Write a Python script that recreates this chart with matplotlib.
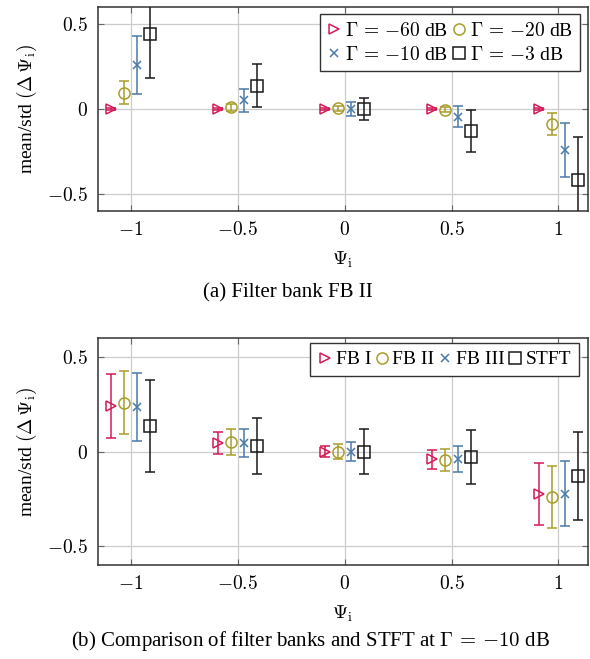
import matplotlib
matplotlib.use("Agg")
import matplotlib.pyplot as plt
from matplotlib.lines import Line2D
import numpy as np

plt.rcParams['font.family'] = ['Liberation Serif', 'DejaVu Serif']
plt.rcParams['mathtext.fontset'] = 'cm'

# data
psi = [-1, -0.5, 0, 0.5, 1]
offsets = [-0.09, -0.03, 0.03, 0.09]

top_labels = [r'$\Gamma\,=\,{-}60$ dB', r'$\Gamma\,=\,{-}20$ dB',
              r'$\Gamma\,=\,{-}10$ dB', r'$\Gamma\,=\,{-}3$ dB']
top_mean = [
    [0.0, 0.0, 0.0, 0.0, 0.0],
    [0.095, 0.01, 0.005, -0.005, -0.09],
    [0.257, 0.05, 0.0, -0.045, -0.24],
    [0.443, 0.138, 0.0, -0.13, -0.418],
]
top_std = [
    [0.005, 0.005, 0.005, 0.005, 0.005],
    [0.067, 0.02, 0.015, 0.015, 0.065],
    [0.17, 0.07, 0.04, 0.06, 0.16],
    [0.26, 0.128, 0.066, 0.123, 0.255],
]

bot_labels = ['FB I', 'FB II', 'FB III', 'STFT']
bot_mean = [
    [0.24, 0.045, 0.0, -0.042, -0.226],
    [0.257, 0.05, 0.0, -0.045, -0.24],
    [0.235, 0.045, 0.0, -0.04, -0.222],
    [0.135, 0.03, 0.0, -0.03, -0.13],
]
bot_std = [
    [0.17, 0.06, 0.03, 0.05, 0.163],
    [0.167, 0.068, 0.04, 0.06, 0.163],
    [0.18, 0.075, 0.048, 0.07, 0.174],
    [0.243, 0.149, 0.12, 0.143, 0.232],
]

colors = ['#d41a57', '#a89d2a', '#4a7aa8', '#1a1a1a']
markers = ['>', 'o', 'x', 's']
msizes = [7, 8, 6, 8]

xticks = [-1, -0.5, 0, 0.5, 1]
yticks = [-0.5, 0, 0.5]


def panel(ax, means, stds, labels, ncol, anchor, order):
    for k in range(4):
        x = np.array(psi) + offsets[k]
        ax.errorbar(x, means[k], yerr=stds[k], fmt=markers[k], color=colors[k],
                    ms=msizes[k], mfc='none', mec=colors[k], mew=1.1,
                    elinewidth=1.1, capsize=3.6, capthick=1.1, zorder=3)
    ax.set_xlim(-1.153, 1.139)
    ax.set_ylim(-0.6, 0.6)
    ax.set_xticks(xticks)
    ax.set_xticklabels(['$%g$' % t for t in xticks])
    ax.set_yticks(yticks)
    ax.set_yticklabels(['$%g$' % t for t in yticks])
    ax.tick_params(direction='in', top=True, right=True, length=4,
                   color='#666666', labelsize=14, pad=7)
    ax.grid(True, color='#cccccc', lw=0.9)
    ax.set_axisbelow(True)
    for s in ax.spines.values():
        s.set_color('#333333')
        s.set_linewidth(1.1)
    ax.set_xlabel(r'$\Psi_\mathrm{i}$', fontsize=14, labelpad=8)
    ax.set_ylabel(r'mean/std $(\Delta\,\Psi_\mathrm{i})$', fontsize=14, labelpad=6)

    handles = [Line2D([], [], ls='none', marker=markers[k], color=colors[k],
                      mfc='none', mec=colors[k], ms=msizes[k], mew=1.1)
               for k in order]
    leg = ax.legend(handles, [labels[k] for k in order], loc='upper right',
                    bbox_to_anchor=anchor, ncol=ncol, fontsize=14, frameon=True,
                    fancybox=False, framealpha=1, edgecolor='#333333',
                    handlelength=0.7, handletextpad=0.2, columnspacing=0.2,
                    borderpad=0.4, labelspacing=0.3, borderaxespad=0)
    leg.get_frame().set_linewidth(1.0)


fig = plt.figure(figsize=(5.9, 6.59), dpi=100)
ax1 = fig.add_axes([0.166, 0.6798, 0.831, 0.3096])
ax2 = fig.add_axes([0.166, 0.1426, 0.831, 0.3445])

# legend in the top panel reads row-wise: -60, -20 / -10, -3
panel(ax1, top_mean, top_std, top_labels, 2, (0.984, 0.966), [0, 2, 1, 3])
panel(ax2, bot_mean, bot_std, bot_labels, 4, (0.982, 0.978), [0, 1, 2, 3])

fig.text(0.488, 0.555, '(a) Filter bank FB II', ha='center', va='center', fontsize=15)
fig.text(0.527, 0.027, r'(b) Comparison of filter banks and STFT at $\Gamma\,=\,{-}10$ dB',
         ha='center', va='center', fontsize=15)

fig.savefig('out.png', dpi=100)
